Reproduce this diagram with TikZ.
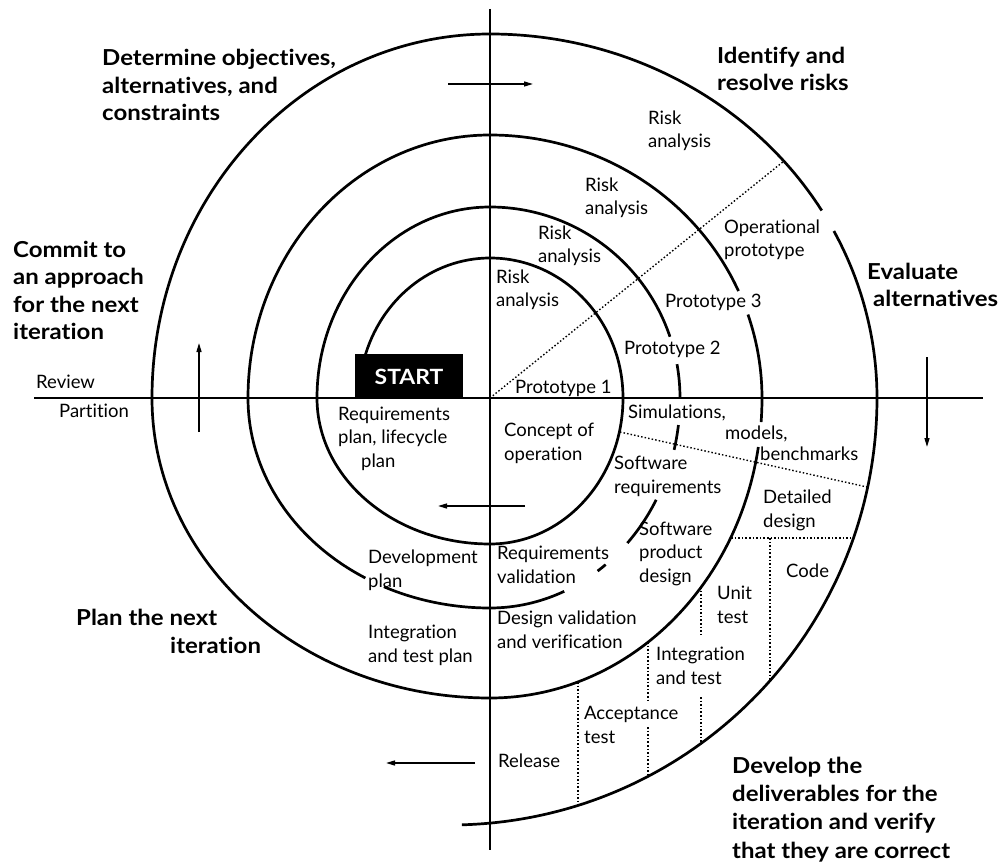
\documentclass[tikz,border=0pt]{standalone}
\usepackage{fontspec}
\setmainfont{Lato}[Ligatures=NoCommon]
\newfontfamily\headfont{Lato}[FakeStretch=1.09, Ligatures=NoCommon]
\usetikzlibrary{arrows.meta}

\begin{document}
\begin{tikzpicture}[x=1pt, y=-1pt,
  spiral/.style={line width=2.7pt},
  axis/.style={line width=2.7pt},
  guide/.style={line width=1.4pt, dash pattern=on 1.5pt off 2.1pt},
  flow/.style={line width=1.4pt, -{Triangle[length=9pt,width=5pt]}},
  % multi-line labels are placed by the baseline of their last line
  lab/.style={font=\fontsize{18.5}{23.5}\selectfont, inner sep=0pt, anchor=base west, align=left},
  head/.style={font=\headfont\bfseries\fontsize{22}{27.5}\selectfont, inner sep=0pt, anchor=base west, align=left},
  startbox/.style={fill=black, text=white, minimum width=108pt, minimum height=45pt, inner sep=0pt,
                   font=\headfont\bfseries\fontsize{21}{25}\selectfont}
]
\fill[white] (0,0) rectangle (1006,866);
\useasboundingbox (0,0) rectangle (1006,866);

% quadrant axes
\coordinate (O) at (490,398);
\draw[axis] (34,398) -- (983,398);
\draw[axis] (490,9) -- (490,850);

% the spiral, one quarter-ellipse per quadrant, centred on the axes' crossing
\begin{scope}[shift={(O)}]
\draw[spiral]
  (196:131 and 140)
  arc[start angle=196, end angle=270, x radius=131, y radius=140]
  arc[start angle=270, end angle=360, x radius=133, y radius=140]
  arc[start angle=0,   end angle=90,  x radius=133, y radius=146]
  arc[start angle=90,  end angle=180, x radius=173, y radius=146]
  arc[start angle=180, end angle=270, x radius=173, y radius=191]
  arc[start angle=270, end angle=341.3, x radius=190, y radius=191];
\draw[spiral] (349.8:190 and 191)
  arc[start angle=349.8, end angle=360, x radius=190, y radius=191];
\draw[spiral] (7.4:190 and 210)
  arc[start angle=7.4, end angle=14.3, x radius=190, y radius=210];
\draw[spiral] (29:190 and 210)
  arc[start angle=29, end angle=43.7, x radius=190, y radius=210];
\draw[spiral] (52.5:190 and 210)
  arc[start angle=52.5, end angle=55.5, x radius=190, y radius=210];
\draw[spiral] (67:190 and 210)
  arc[start angle=67, end angle=90, x radius=190, y radius=210]
  arc[start angle=90, end angle=116, x radius=242, y radius=210];
\draw[spiral] (121:242 and 210)
  arc[start angle=121, end angle=180, x radius=242, y radius=210]
  arc[start angle=180, end angle=270, x radius=242, y radius=263]
  arc[start angle=270, end angle=336, x radius=272, y radius=263];
\draw[spiral] (341.5:272 and 263)
  arc[start angle=341.5, end angle=360, x radius=272, y radius=263]
  arc[start angle=0, end angle=4.6, x radius=272, y radius=300];
\draw[spiral] (9.4:272 and 300)
  arc[start angle=9.4, end angle=90, x radius=272, y radius=300]
  arc[start angle=90, end angle=180, x radius=338, y radius=300]
  arc[start angle=180, end angle=270, x radius=338, y radius=364]
  arc[start angle=270, end angle=329, x radius=387, y radius=364];
\draw[spiral] (332.7:387 and 364)
  arc[start angle=332.7, end angle=360, x radius=387, y radius=364]
  arc[start angle=0, end angle=88.4, radius=427];
\end{scope}

% dotted partitions
\draw[guide] (O) -- (784,161);
\draw[guide] (620,432) -- (867,487);
\draw[guide] (731,538) -- (853,538);
\draw[guide] (770,538) -- (770,681);
\draw[guide] (701,587) -- (701,635);
\draw[guide] (701,697) -- (701,743);
\draw[guide] (648,642) -- (648,700);
\draw[guide] (648,727) -- (648,776);
\draw[guide] (578,682) -- (578,805);

% direction arrows
\coordinate (topA) at (448,84);  \coordinate (topB) at (533,84);
\coordinate (lftA) at (199,432); \coordinate (lftB) at (199,343);
\coordinate (rgtA) at (927,357); \coordinate (rgtB) at (927,447);
\coordinate (inA)  at (525,506); \coordinate (inB)  at (438,506);
\coordinate (botA) at (475,763); \coordinate (botB) at (386,763);
\draw[flow] (topA) -- (topB);
\draw[flow] (lftA) -- (lftB);
\draw[flow] (rgtA) -- (rgtB);
\draw[flow] (inA) -- (inB);
\draw[flow] (botA) -- (botB);

% start marker
\node[startbox] (start) at (409,376.5) {START};

% quadrant headings
\node[head] (objectives) at (102,121) {Determine objectives,\\alternatives, and\\constraints};
\node[head] (risks) at (717,91) {Identify and\\resolve risks};
\node[head] (commit) at (13,340) {Commit to\\an approach\\for the next\\iteration};
\node[head] (evaluate) at (867,307) {Evaluate\\\hspace*{6pt}alternatives};
\node[head] (plannext) at (76,653) {Plan the next\\\hspace*{94pt}iteration};
\node[head, font=\headfont\bfseries\fontsize{22}{28.3}\selectfont] (develop) at (732,858)
  {Develop the\\deliverables for the\\iteration and verify\\that they are correct};

% activity labels
\node[lab] (review) at (36,388) {Review};
\node[lab] (partition) at (59,417) {Partition};
\node[lab] (risk1) at (496,307) {Risk\\analysis};
\node[lab] (risk2) at (538,263) {Risk\\analysis};
\node[lab] (risk3) at (585,215) {Risk\\analysis};
\node[lab] (risk4) at (648,148) {Risk\\analysis};
\node[lab] (opproto) at (724,257) {Operational\\prototype};
\node[lab] (proto3) at (665,308) {Prototype 3};
\node[lab] (proto2) at (624,355) {Prototype 2};
\node[lab] (proto1) at (515,393) {Prototype 1};
\node[lab, font=\fontsize{18.5}{21}\selectfont] (sims) at (628,460)
  {Simulations,\\\hspace*{97pt}models,\\\hspace*{132pt}benchmarks};
\node[lab] (concept) at (504,460) {Concept of\\operation};
\node[lab] (reqplan) at (338,467) {Requirements\\plan, lifecycle\\\hspace*{23pt}plan};
\node[lab] (swreq) at (614,493) {Software\\requirements};
\node[lab] (detailed) at (763,527) {Detailed\\design};
\node[lab] (swprod) at (639,582) {Software\\product\\design};
\node[lab] (code) at (786,577) {Code};
\node[lab] (reqval) at (497,583) {Requirements\\validation};
\node[lab] (unit) at (717,623) {Unit\\test};
\node[lab] (desval) at (497,648) {Design validation\\and verification};
\node[lab] (integ) at (656,684) {Integration\\and test};
\node[lab] (accept) at (584,743) {Acceptance\\test};
\node[lab] (release) at (498,767) {Release};
\node[lab] (devplan) at (368,587) {Development\\plan};
\node[lab] (itplan) at (368,662) {Integration\\and test plan};
\end{tikzpicture}
\end{document}
